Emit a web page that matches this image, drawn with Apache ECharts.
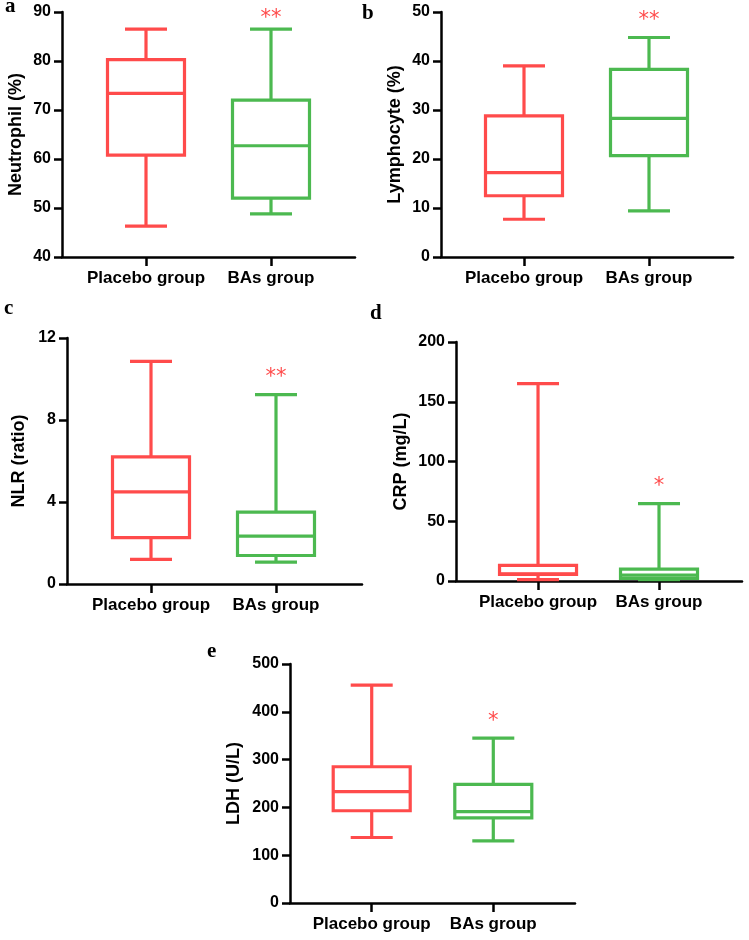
<!DOCTYPE html>
<html>
<head>
<meta charset="utf-8">
<title>Boxplots</title>
<script src="https://cdn.jsdelivr.net/npm/echarts@6/dist/echarts.min.js"></script>
<style>
html, body { margin: 0; padding: 0; background: #fff; }
#main { width: 749px; height: 940px; }
</style>
</head>
<body>
<div id="main"></div>
<script>
var groups = ['Placebo group', 'BAs group'];
var colors = ['#ff4b4b', '#4cb950'];

// each box: [min, Q1, median, Q3, max], placebo first then BAs
var neutrophil = [[46.3, 60.8, 73.4, 80.3, 86.5], [48.8, 52.0, 62.7, 72.0, 86.5]];
var lymphocyte = [[7.7, 12.5, 17.2, 28.8, 39.0], [9.4, 20.7, 28.3, 38.3, 44.8]];
var nlr = [[1.2, 2.26, 4.49, 6.2, 10.86], [1.07, 1.39, 2.34, 3.51, 9.24]];
var crp = [[1.2, 5.5, 6.0, 13.0, 165.2], [1.2, 2.2, 5.0, 10.0, 64.8]];
var ldh = [[137, 193, 233, 285, 456], [130, 178, 191, 248, 345]];

// significance mark over the BAs group
var sigMarks = ['**', '**', '**', '*', '*'];

var panels = [
    {letter: 'a', name: 'Neutrophil (%)', data: neutrophil, yMin: 40, yMax: 90, step: 10,
     left: 62, top: 12, width: 293, height: 245, xMin: -0.672, xMax: 1.672, nameGap: 37, lx: 5, ly: 7},
    {letter: 'b', name: 'Lymphocyte (%)', data: lymphocyte, yMin: 0, yMax: 50, step: 10,
     left: 441, top: 12, width: 292, height: 245, xMin: -0.664, xMax: 1.672, nameGap: 37, lx: 362, ly: 14},
    {letter: 'c', name: 'NLR (ratio)', data: nlr, yMin: 0, yMax: 12, step: 4,
     left: 67, top: 338, width: 295, height: 246, xMin: -0.672, xMax: 1.688, nameGap: 39, lx: 4, ly: 309},
    {letter: 'd', name: 'CRP (mg/L)', data: crp, yMin: 0, yMax: 200, step: 50,
     left: 456, top: 342, width: 286, height: 239, xMin: -0.678, xMax: 1.686, nameGap: 46, lx: 370, ly: 314},
    {letter: 'e', name: 'LDH (U/L)', data: ldh, yMin: 0, yMax: 500, step: 100,
     left: 290, top: 664, width: 285, height: 239, xMin: -0.672, xMax: 1.672, nameGap: 47, lx: 207, ly: 652}
];

var axisColor = '#000';
var fontFamily = '"Liberation Sans", Arial, sans-serif';

function renderBox(sig) {
    return function (params, api) {
        var i = api.value(0);
        var cx = api.coord([i, api.value(1)])[0];
        var yLo = api.coord([i, api.value(1)])[1];
        var yQ1 = api.coord([i, api.value(2)])[1];
        var yMed = api.coord([i, api.value(3)])[1];
        var yQ3 = api.coord([i, api.value(4)])[1];
        var yHi = api.coord([i, api.value(5)])[1];
        var hw = 38.5, cw = 21;
        var c = colors[i];
        function st() { return {stroke: c, lineWidth: 3.2, fill: 'none'}; }
        var children = [
            {type: 'line', shape: {x1: cx, y1: yQ3, x2: cx, y2: yHi}, style: st()},
            {type: 'line', shape: {x1: cx, y1: yQ1, x2: cx, y2: yLo}, style: st()},
            {type: 'line', shape: {x1: cx - cw, y1: yHi, x2: cx + cw, y2: yHi}, style: st()},
            {type: 'line', shape: {x1: cx - cw, y1: yLo, x2: cx + cw, y2: yLo}, style: st()},
            {type: 'rect', shape: {x: cx - hw, y: yQ3, width: hw * 2, height: yQ1 - yQ3}, style: st()},
            {type: 'line', shape: {x1: cx - hw, y1: yMed, x2: cx + hw, y2: yMed}, style: st()}
        ];
        if (i === 1 && sig) {
            var sy = Math.max(yHi - 23, params.coordSys.y + 1);
            children.push({
                type: 'text',
                style: {
                    text: sig, x: cx, y: sy + 6, align: 'center', verticalAlign: 'middle',
                    fill: colors[0], font: '21px "DejaVu Sans", sans-serif'
                }
            });
        }
        return {type: 'group', children: children};
    };
}

var grid = [], xAxis = [], yAxis = [], series = [], graphic = [];

panels.forEach(function (p, k) {
    grid.push({left: p.left, top: p.top, width: p.width, height: p.height, containLabel: false});

    xAxis.push({
        type: 'value', gridIndex: k, min: p.xMin, max: p.xMax,
        axisLine: {show: true, onZero: false, lineStyle: {color: axisColor, width: 2.5}},
        axisTick: {show: true, length: 9, customValues: [0, 1], lineStyle: {color: axisColor, width: 2.5}},
        axisLabel: {
            show: true, customValues: [0, 1], margin: 13, color: '#000',
            fontSize: 17, fontWeight: 'bold', fontFamily: fontFamily,
            formatter: function (v) { return groups[Math.round(v)] || ''; }
        },
        splitLine: {show: false}
    });

    yAxis.push({
        type: 'value', gridIndex: k, min: p.yMin, max: p.yMax, interval: p.step,
        name: p.name, nameLocation: 'middle', nameGap: p.nameGap,
        nameTextStyle: {color: '#000', fontSize: 18, fontWeight: 'bold', fontFamily: fontFamily},
        axisLine: {show: true, onZero: false, lineStyle: {color: axisColor, width: 2.5}},
        axisTick: {show: true, length: 8, lineStyle: {color: axisColor, width: 2.5}},
        axisLabel: {margin: 11, color: '#000', fontSize: 16, fontWeight: 'bold', fontFamily: fontFamily},
        splitLine: {show: false}
    });

    var rows = p.data.map(function (b, i) { return [i].concat(b); });
    series.push({
        type: 'custom', xAxisIndex: k, yAxisIndex: k,
        renderItem: renderBox(sigMarks[k]),
        encode: {x: 0, y: [1, 2, 3, 4, 5]},
        data: rows, silent: true
    });

    graphic.push({
        type: 'text', x: p.lx, y: p.ly,
        style: {text: p.letter, fill: '#000', align: 'left', verticalAlign: 'middle',
                font: 'bold 21px "Liberation Serif", "Times New Roman", serif'}
    });
});

var myChart = echarts.init(document.getElementById('main'));
myChart.setOption({
    animation: false,
    backgroundColor: '#fff',
    grid: grid,
    xAxis: xAxis,
    yAxis: yAxis,
    series: series,
    graphic: graphic
});
</script>
</body>
</html>
